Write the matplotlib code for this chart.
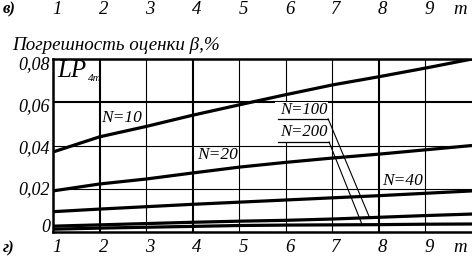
import numpy as np
import matplotlib
matplotlib.use("Agg")
import matplotlib.pyplot as plt
from matplotlib.transforms import blended_transform_factory, offset_copy
from matplotlib.patches import Rectangle

# ---- data ----
m = [1, 2, 3, 4, 5, 6, 7, 8, 9, 10]
n10 = [0.0370, 0.0440, 0.0488, 0.0540, 0.0588, 0.0635, 0.0680, 0.0718, 0.0758, 0.0800]
n20 = [0.0190, 0.0222, 0.0245, 0.0273, 0.0300, 0.0322, 0.0342, 0.0360, 0.0380, 0.0400]
n40 = [0.0094, 0.0106, 0.0117, 0.0128, 0.0138, 0.0148, 0.0158, 0.0168, 0.0179, 0.0190]
n100 = [0.0027, 0.0033, 0.0039, 0.0045, 0.0050, 0.0054, 0.0060, 0.0068, 0.0076, 0.0083]
n200 = [0.0013, 0.0018, 0.0022, 0.0026, 0.0030, 0.0032, 0.0033, 0.0034, 0.0036, 0.0037]
x_ticks = [1, 2, 3, 4, 5, 6, 7, 8, 9]
x_tick_labels = ["1", "2", "3", "4", "5", "6", "7", "8", "9"]
y_ticks = [0, 0.02, 0.04, 0.06, 0.08]
y_tick_labels = ["0", "0,02", "0,04", "0,06", "0,08"]
y_title = "Погрешность оценки β,%"

SERIF = ["Liberation Serif", "DejaVu Serif"]
plt.rcParams["font.family"] = SERIF

W, H = 472, 259
fig = plt.figure(figsize=(W / 100, H / 100), dpi=100)
L, R, T, B = 53, 472, 59, 232
ax = fig.add_axes([L / W, (H - B) / H, (R - L) / W, (B - T) / H])
ax.set_xlim(1, 10)
ax.set_ylim(0, 0.08)

# grid
thick_x = {2, 4, 8}
for xv in x_ticks[1:]:
    ax.axvline(xv, color="black", lw=1.5 if xv in thick_x else 0.8, zorder=1)
for yv in y_ticks[1:-1]:
    ax.axhline(yv, color="black", lw=1.5 if yv == 0.06 else 0.8, zorder=1)

for s in ["left", "top", "bottom"]:
    ax.spines[s].set_linewidth(1.8)
ax.spines["right"].set_visible(False)

# curves
for ser in [n10, n20, n40, n100, n200]:
    ax.plot(m, ser, color="black", lw=2.3, solid_capstyle="butt", zorder=3)

ax.set_xticks([])
ax.set_yticks([])

# y tick labels (slightly shifted like in the original print)
y_label_shift_px = [4, -1, -3, -4.5, -6]
ytr = ax.get_yaxis_transform()
for yv, lab, dy in zip(y_ticks, y_tick_labels, y_label_shift_px):
    t = offset_copy(ytr, fig=fig, x=-3, y=dy, units="dots")
    ax.text(0, yv, lab, transform=t, ha="right", va="center", fontsize=13,
            fontstyle="italic", clip_on=False)

# top and bottom tick rows
tr = blended_transform_factory(ax.transData, fig.transFigure)
for xv, lab in zip(x_ticks, x_tick_labels):
    fig.text(xv + 0.08, 1 - 9 / H, lab, transform=tr, ha="center", va="center",
             fontsize=13.5, fontstyle="italic")
    fig.text(xv + 0.08, 1 - 248 / H, lab, transform=tr, ha="center", va="center",
             fontsize=13.5, fontstyle="italic")
fig.text(9.75, 1 - 9 / H, "m", transform=tr, ha="center", va="center",
         fontsize=13.5, fontstyle="italic")
fig.text(9.75, 1 - 248 / H, "m", transform=tr, ha="center", va="center",
         fontsize=13.5, fontstyle="italic")
fig.text(3 / W, 1 - 9 / H, "в)", ha="left", va="center", fontsize=12,
         fontstyle="italic", fontweight="bold")
fig.text(3 / W, 1 - 248 / H, "г)", ha="left", va="center", fontsize=12,
         fontstyle="italic", fontweight="bold")

# y title
fig.text(12 / W, 1 - 46 / H, y_title, ha="left", va="center", fontsize=13.7,
         fontstyle="italic")

# LP_4m
ax.text(1.1, 0.0745, "LP", ha="left", va="center", fontsize=18, fontstyle="italic", zorder=5)
ax.text(1.76, 0.0712, "4m", ha="left", va="center", fontsize=8, fontstyle="italic", zorder=5)

# labels
lab_kw = dict(fontsize=12.5, fontstyle="italic", va="center", zorder=6)
ax.text(2.04, 0.0527, "N=10", ha="left", **lab_kw)
ax.text(4.09, 0.0356, "N=20", ha="left", **lab_kw)
ax.text(8.07, 0.0236, "N=40", ha="left", **lab_kw)

ax.add_patch(Rectangle((5.77, 0.0418), 1.14, 0.0183, facecolor="white",
                       edgecolor="none", zorder=4))
ax.text(6.38, 0.0563, "N=100", ha="center", fontsize=12, fontstyle="italic",
        va="center", zorder=6)
ax.text(6.38, 0.0463, "N=200", ha="center", fontsize=12, fontstyle="italic",
        va="center", zorder=6)
ax.plot([5.83, 6.91], [0.0523, 0.0523], color="black", lw=0.9, zorder=6)
ax.plot([5.83, 6.93], [0.0416, 0.0416], color="black", lw=0.9, zorder=6)
x_end100, x_end200 = 7.8, 7.64
ax.plot([6.91, x_end100], [0.0523, np.interp(x_end100, m, n100)], color="black", lw=0.8, zorder=6)
ax.plot([6.93, x_end200], [0.0416, np.interp(x_end200, m, n200)], color="black", lw=0.8, zorder=6)

fig.savefig("out.png", dpi=100)
